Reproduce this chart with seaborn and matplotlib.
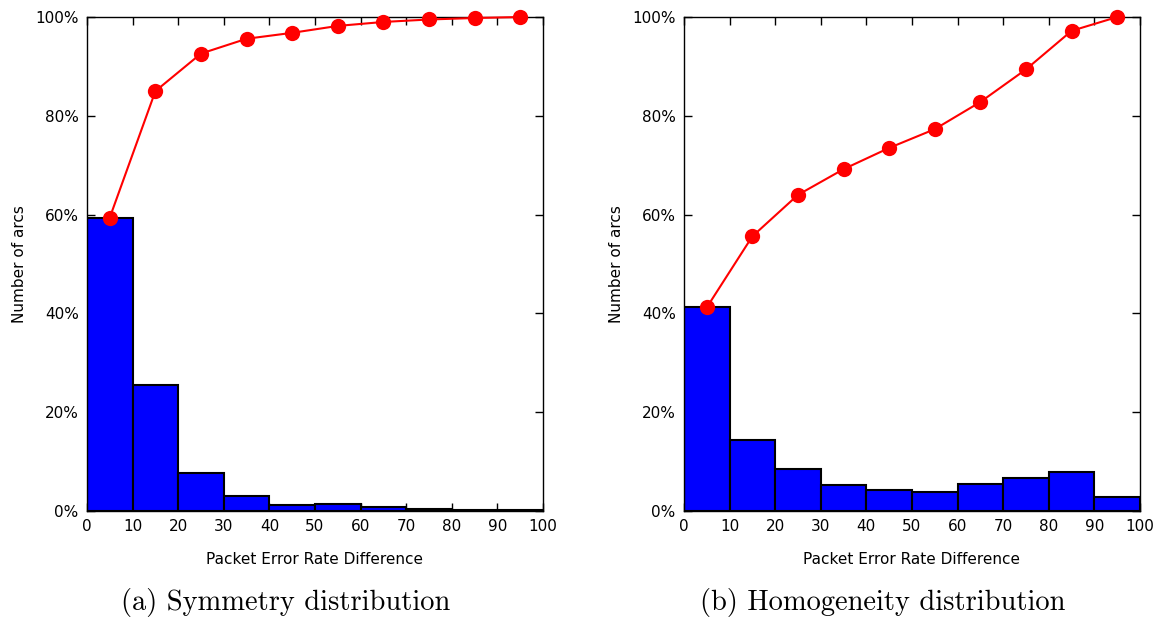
import numpy as np
import pandas as pd
import matplotlib
matplotlib.use("Agg")
import matplotlib.pyplot as plt
import seaborn as sns

# bin centres of the histograms (Packet Error Rate Difference)
centros = [5, 15, 25, 35, 45, 55, 65, 75, 85, 95]

# Symmetry distribution (% of arcs per bin and cumulative %)
sim_barras = [59.4, 25.6, 7.6, 3.0, 1.2, 1.4, 0.8, 0.5, 0.3, 0.2]
sim_acum = [59.4, 85.0, 92.6, 95.6, 96.8, 98.2, 99.0, 99.5, 99.8, 100.0]

# Homogeneity distribution
hom_barras = [41.2, 14.4, 8.4, 5.2, 4.3, 3.8, 5.5, 6.6, 7.8, 2.8]
hom_acum = [41.2, 55.6, 64.0, 69.2, 73.5, 77.3, 82.8, 89.4, 97.2, 100.0]

x_ticks = list(range(0, 101, 10))
y_ticks = [0, 20, 40, 60, 80, 100]
subtitulos = ["(a) Symmetry distribution", "(b) Homogeneity distribution"]

sns.set_theme(style="ticks")
plt.rcParams["font.family"] = ["DejaVu Sans"]
plt.rcParams["text.color"] = "black"
plt.rcParams["axes.labelcolor"] = "black"

fig = plt.figure(figsize=(11.63, 6.19), dpi=100)
posiciones = [[0.0748, 0.1745, 0.3921, 0.798], [0.5881, 0.1745, 0.3921, 0.798]]
pos_sub = [0.246, 0.759]

datos = [(sim_barras, sim_acum), (hom_barras, hom_acum)]

for pos, (barras, acum), sub, xs in zip(posiciones, datos, subtitulos, pos_sub):
    ax = fig.add_axes(pos)
    df = pd.DataFrame({"x": centros, "bar": barras, "cum": acum})
    sns.barplot(data=df, x="x", y="bar", native_scale=True, width=1.0,
                color="#0000ff", saturation=1, edgecolor="black",
                linewidth=1.5, ax=ax, zorder=2)
    sns.lineplot(data=df, x="x", y="cum", color="#ff0000", linewidth=1.5,
                 marker="o", markersize=11, markeredgewidth=0, ax=ax,
                 zorder=3, clip_on=False)
    ax.set_xlim(0, 100)
    ax.set_ylim(0, 100)
    ax.set_xticks(x_ticks)
    ax.set_xticklabels([str(t) for t in x_ticks])
    ax.set_yticks(y_ticks)
    ax.set_yticklabels([f"{t}%" for t in y_ticks])
    ax.tick_params(direction="in", length=6, width=1, top=True, right=True,
                   labelsize=11, colors="black", pad=6)
    for s in ax.spines.values():
        s.set_visible(True)
        s.set_linewidth(1)
        s.set_color("black")
    ax.set_xlabel("Packet Error Rate Difference", fontsize=11, labelpad=13)
    ax.set_ylabel("Number of arcs", fontsize=11, labelpad=6)
    fig.text(xs, 0.026, sub, ha="center", va="center",
             fontsize=20.5, family=["cmr10", "DejaVu Serif"])

fig.savefig("out.png", dpi=100)
